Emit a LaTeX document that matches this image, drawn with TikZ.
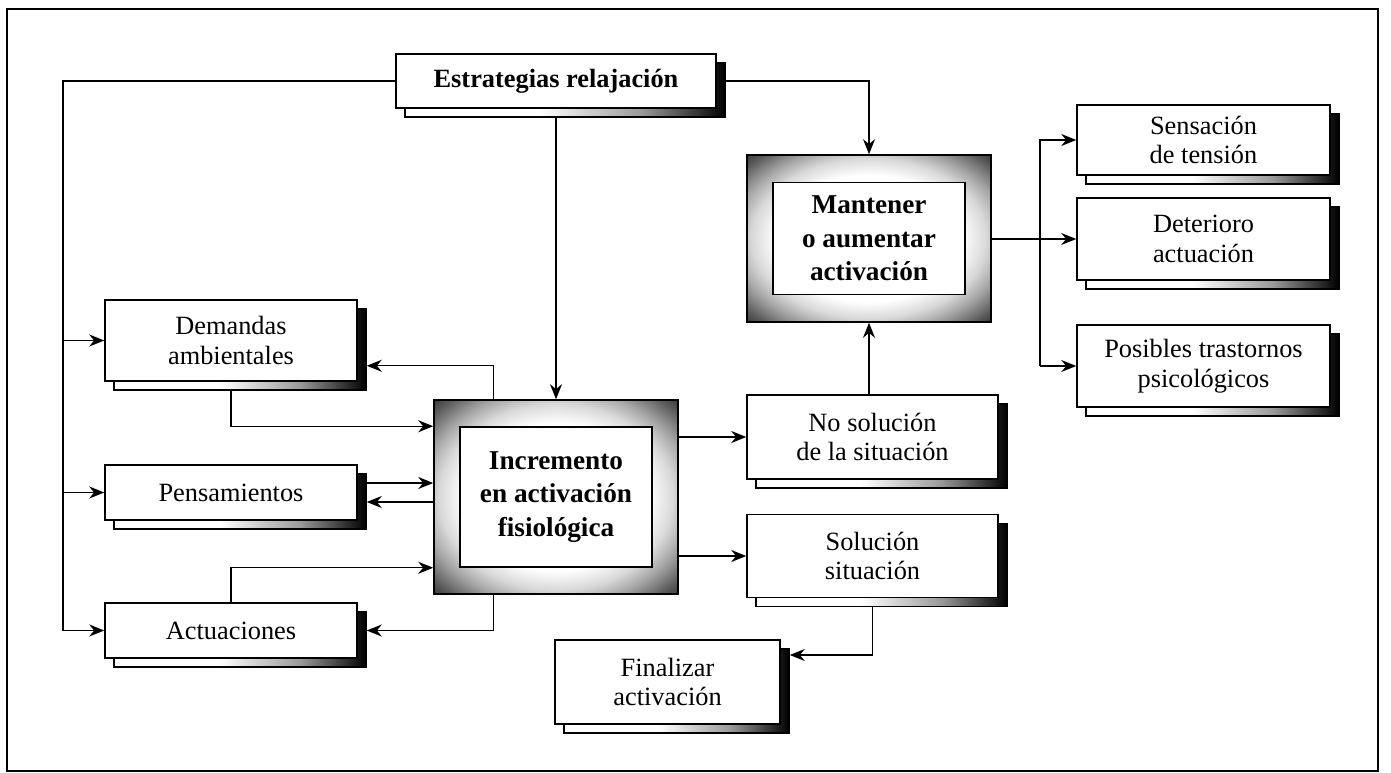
\documentclass[tikz,border=0pt]{standalone}
\usepackage{fontspec}
\setmainfont{Liberation Serif}
\usetikzlibrary{arrows.meta, positioning, calc}
\pgfdeclarehorizontalshading{sombra}{100bp}{color(0bp)=(white); color(25bp)=(white); color(46bp)=(white); color(62bp)=(black!40); color(75bp)=(black); color(100bp)=(black)}
\pgfdeclareradialshading{marcogris}{\pgfpoint{0bp}{0bp}}{color(0bp)=(white); color(19bp)=(white); color(24bp)=(black!15); color(28bp)=(black!35); color(33bp)=(black!65); color(37bp)=(black!85); color(50bp)=(black!85)}
\tikzset{
  caja/.style={draw, line width=0.9pt, fill=white, align=center, inner sep=2pt, font=\fontsize{15}{17}\selectfont,
    preaction={draw, line width=0.9pt, shading=sombra, transform canvas={shift={(0.18cm,-0.18cm)}}}},
  cajanegrita/.style={caja, font=\fontsize{15}{17}\selectfont\bfseries},
  marco/.style={draw, line width=0.9pt, shading=marcogris},
  centro/.style={draw, line width=0.9pt, fill=white, align=center, font=\fontsize{15.5}{19}\selectfont\bfseries},
  linea/.style={line width=0.8pt},
  flecha/.style={linea, -{Stealth[length=3mm,width=2.4mm]}},
}
\begin{document}
\begin{tikzpicture}[x=0.02cm, y=-0.02cm]
  \useasboundingbox (0,0) rectangle (1391,773);
  \draw[line width=1.5pt] (7,9) rectangle (1378,771);
  % cajas
  \node[cajanegrita, minimum width=6.4cm, minimum height=1.08cm] (estr) at (556,81) {Estrategias relajación};
  \node[marco, minimum width=4.88cm, minimum height=3.34cm] (mant) at (869,238.5) {};
  \node[centro, minimum width=3.84cm, minimum height=2.24cm] (mantin) at (mant.center) {Mantener\\o aumentar\\activación};
  \node[caja, minimum width=5.06cm, minimum height=1.4cm] (sens) at (1203.5,140) {Sensación\\de tensión};
  \node[caja, minimum width=5.06cm, minimum height=1.64cm] (deter) at (1203.5,239) {Deterioro\\actuación};
  \node[caja, minimum width=5.06cm, minimum height=1.64cm] (posib) at (1203.5,366) {Posibles trastornos\\psicológicos};
  \node[caja, minimum width=5.04cm, minimum height=1.62cm] (dem) at (231,340.5) {Demandas\\ambientales};
  \node[caja, minimum width=5.04cm, minimum height=1.1cm] (pens) at (231,492.5) {Pensamientos};
  \node[caja, minimum width=5.04cm, minimum height=1.1cm] (act) at (231,630.5) {Actuaciones};
  \node[marco, minimum width=4.88cm, minimum height=3.88cm] (incr) at (556,497) {};
  \node[centro, minimum width=3.84cm, minimum height=2.8cm] (incrin) at (incr.center) {Incremento\\en activación\\fisiológica};
  \node[caja, minimum width=5.02cm, minimum height=1.68cm] (nosol) at (872.5,437) {No solución\\de la situación};
  \node[caja, minimum width=5.02cm, minimum height=1.66cm] (sol) at (872.5,556) {Solución\\situación};
  \node[caja, minimum width=4.5cm, minimum height=1.68cm] (fin) at (667.5,682) {Finalizar\\activación};
  % conexiones
  \coordinate (ramal) at (63,0);
  \coordinate (bifurca) at (1040,0);
  \draw[flecha] (estr.west) -| (ramal |- act.west) -- (act.west);
  \draw[flecha] (ramal |- dem.west) -- (dem.west);
  \draw[flecha] (ramal |- pens.west) -- (pens.west);
  \draw[flecha] ($(estr.east)+(9,0)$) -| (mant.north);
  \draw[flecha] ($(estr.south)+(0,9)$) -- (incr.north);
  \draw[flecha] ($(incr.north west)+(60,0)$) |- ($(dem.south east)+(9,-16)$);
  \draw[flecha] ($(incr.south west)+(60,0)$) |- ($(act.east)+(9,0)$);
  \draw[flecha] ($(dem.south)+(0,9)$) |- ($(incr.north west)+(0,27)$);
  \draw[flecha] (act.north) |- ($(incr.south west)+(0,-27)$);
  \draw[flecha] ($(pens.east)+(9,-9.5)$) -- ($(incr.west |- pens.east)+(0,-9.5)$);
  \draw[flecha] ($(incr.west |- pens.east)+(0,9.5)$) -- ($(pens.east)+(9,9.5)$);
  \draw[flecha] (incr.east |- nosol.west) -- (nosol.west);
  \draw[flecha] (incr.east |- sol.west) -- (sol.west);
  \draw[flecha] (mant.south |- nosol.north) -- (mant.south);
  \draw[flecha] ($(sol.south)+(0,9)$) |- ($(fin.east)+(9,-27)$);
  \draw[flecha] (mant.east |- deter.west) -- (deter.west);
  \draw[flecha] (bifurca |- posib.west) -- (posib.west);
  \draw[flecha] (bifurca |- posib.west) |- (sens.west);
\end{tikzpicture}
\end{document}
